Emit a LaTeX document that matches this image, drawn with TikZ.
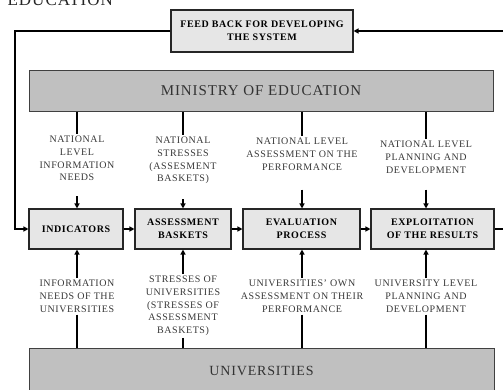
\documentclass[tikz,border=0pt]{standalone}
\usepackage{fontspec}
\setmainfont{Liberation Serif}[LetterSpace=6]
\usetikzlibrary{arrows.meta}

\definecolor{boxgray}{HTML}{E6E6E6}
\definecolor{biggray}{HTML}{C0C0C0}
\definecolor{labgray}{HTML}{383838}

\begin{document}
\begin{tikzpicture}[x=1pt, y=-1pt,
    flow/.style={line width=1.8pt, black},
    tip/.style={-{Triangle[length=5pt,width=5pt]}},
    step box/.style={draw=black!85, line width=1.1pt, fill=boxgray, align=center,
                     minimum height=40pt, inner sep=2pt,
                     font=\fontsize{10}{13}\selectfont\bfseries},
    big box/.style={draw=black!75, line width=1pt, fill=biggray, minimum width=464pt,
                    text=black!80},
    lab/.style={align=center, inner sep=2pt, text=labgray,
                font=\fontsize{10}{12.7}\selectfont}]

  \useasboundingbox (0,0) rectangle (503,389);
  \clip (0,0) rectangle (503,389);

  \node[anchor=base west, font=\fontsize{17}{20}\selectfont, text=black!85] (head) at (4,5) {EDUCATION};

  \node[step box, minimum width=182pt, minimum height=42pt] (fb) at (262,31) {FEED BACK FOR DEVELOPING\\THE SYSTEM};
  \node[big box, minimum height=41pt, font=\fontsize{15}{18}\selectfont] (mini) at (261,90.5) {MINISTRY OF EDUCATION};
  \node[big box, minimum width=465pt, minimum height=45pt, font=\fontsize{14}{17}\selectfont] (uni) at (261.5,370.5) {UNIVERSITIES};

  \node[step box, minimum width=94pt] (ind) at (76,229) {INDICATORS};
  \node[step box, minimum width=96pt] (bask) at (183,229) {ASSESSMENT\\BASKETS};
  \node[step box, minimum width=117pt] (eval) at (301.5,229) {EVALUATION\\PROCESS};
  \node[step box, minimum width=123pt] (expl) at (432.5,229) {EXPLOITATION\\OF THE RESULTS};

  \node[lab, anchor=north] (nat1) at (77,134) {NATIONAL\\LEVEL\\INFORMATION\\NEEDS};
  \node[lab, anchor=north] (nat2) at (183,135) {NATIONAL\\STRESSES\\(ASSESMENT\\BASKETS)};
  \node[lab, anchor=north] (nat3) at (302,136) {NATIONAL LEVEL\\ASSESSMENT ON THE\\PERFORMANCE};
  \node[lab, anchor=north] (nat4) at (426,139) {NATIONAL LEVEL\\PLANNING AND\\DEVELOPMENT};

  \node[lab, anchor=north] (uni1) at (77,278) {INFORMATION\\NEEDS OF THE\\UNIVERSITIES};
  \node[lab, anchor=north] (uni2) at (183,274) {STRESSES OF\\UNIVERSITIES\\(STRESSES OF\\ASSESSMENT\\BASKETS)};
  \node[lab, anchor=north] (uni3) at (302,278) {UNIVERSITIES' OWN\\ASSESSMENT ON THEIR\\PERFORMANCE};
  \node[lab, anchor=north] (uni4) at (426,278) {UNIVERSITY LEVEL\\PLANNING AND\\DEVELOPMENT};

  \coordinate (loopL) at (15,31);
  \coordinate (loopR) at (515,31);

  \foreach \n in {nat1,nat2,nat3,nat4}
    \draw[flow] (\n.north |- mini.south) -- (\n.north);
  \foreach \n in {uni1,uni2,uni3,uni4}
    \draw[flow] (\n.south) -- (\n.south |- uni.north);

  \draw[flow, tip, shorten <=13pt] (nat1.south) -- (nat1.south |- ind.north);
  \draw[flow, tip, shorten <=13pt] (nat2.south) -- (nat2.south |- bask.north);
  \draw[flow, tip, shorten <=17pt] (nat3.south) -- (nat3.south |- eval.north);
  \draw[flow, tip, shorten <=14pt] (nat4.south) -- (nat4.south |- expl.north);

  \draw[flow, tip] (uni1.north) -- (uni1.north |- ind.south);
  \draw[flow, tip] (uni2.north) -- (uni2.north |- bask.south);
  \draw[flow, tip] (uni3.north) -- (uni3.north |- eval.south);
  \draw[flow, tip] (uni4.north) -- (uni4.north |- expl.south);

  \path[flow, tip]
  (ind) edge (bask)
  (bask) edge (eval)
  (eval) edge (expl);

  \draw[flow, tip] (fb.west) -| (loopL) |- (ind.west);
  \draw[flow, tip] (expl.east) -| (loopR) |- (fb.east);

\end{tikzpicture}
\end{document}
